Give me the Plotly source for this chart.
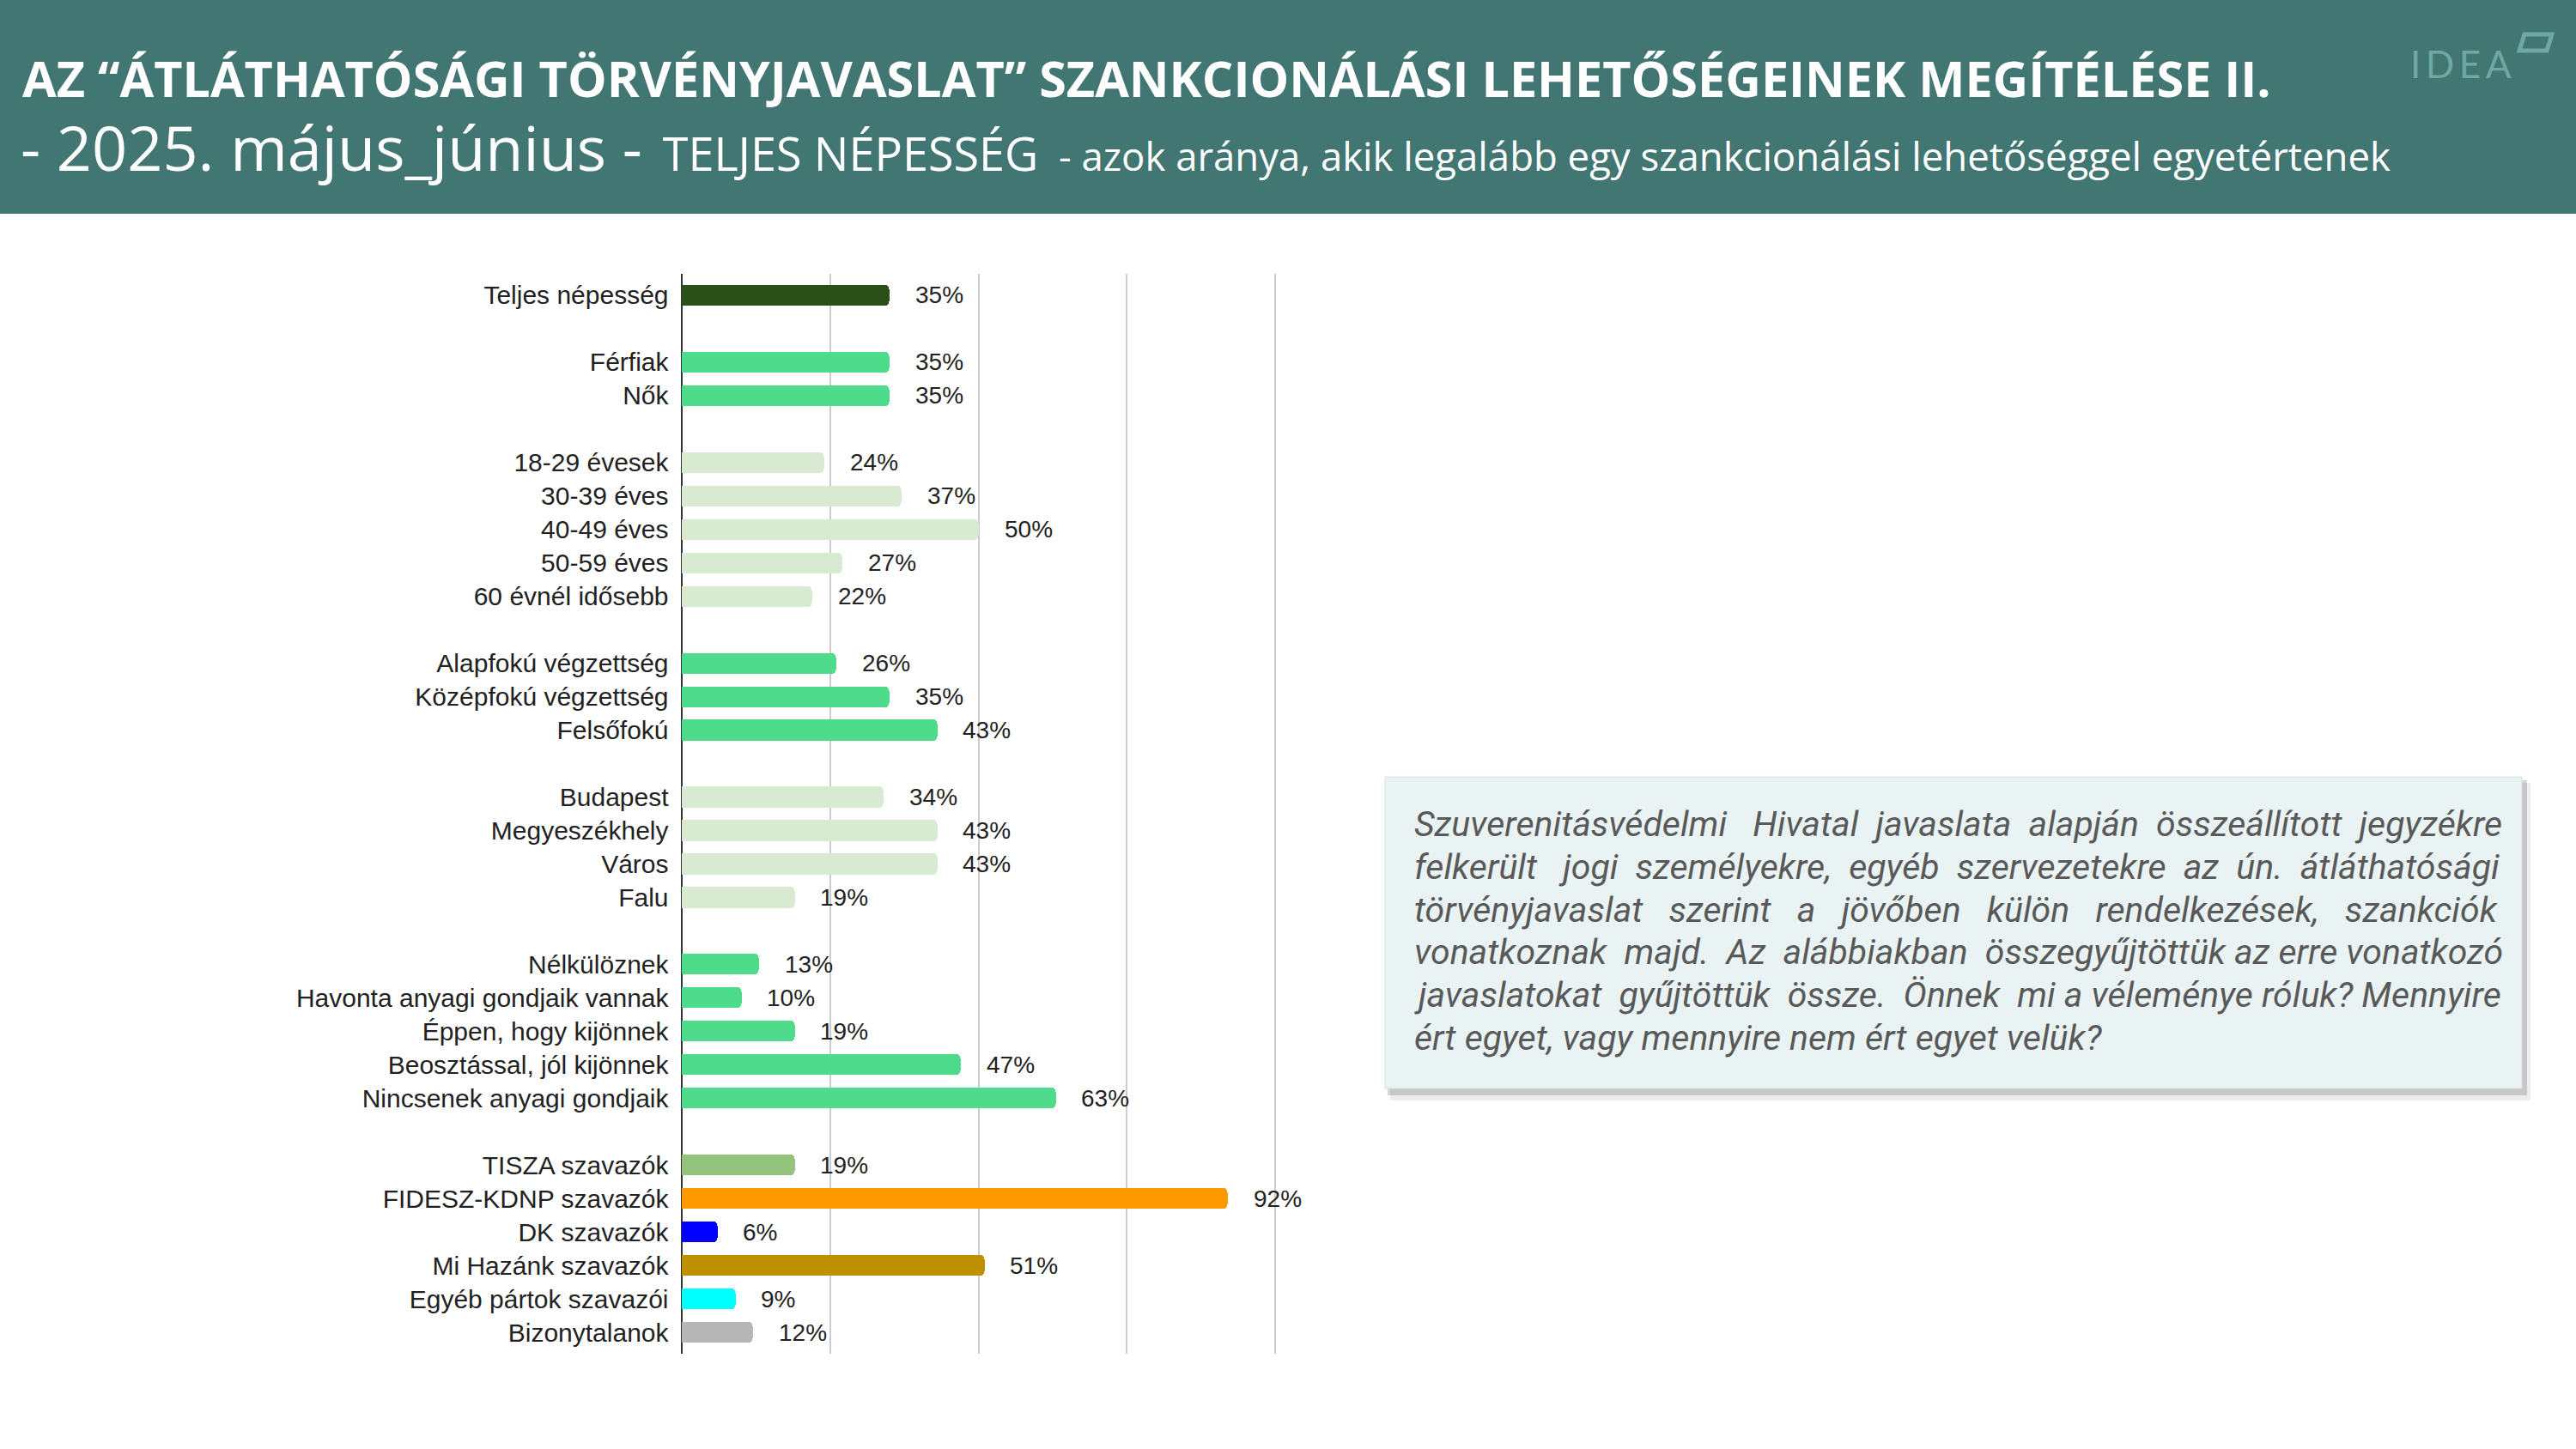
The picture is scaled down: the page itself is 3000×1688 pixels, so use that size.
import plotly.graph_objects as go

# ---------------- data ----------------
labels_total = ["Teljes népesség"]
values_total = [35]
labels_gender = ["Férfiak", "Nők"]
values_gender = [35, 35]
labels_age = ["18-29 évesek", "30-39 éves", "40-49 éves", "50-59 éves", "60 évnél idősebb"]
values_age = [24, 37, 50, 27, 22]
labels_edu = ["Alapfokú végzettség", "Középfokú végzettség", "Felsőfokú"]
values_edu = [26, 35, 43]
labels_settle = ["Budapest", "Megyeszékhely", "Város", "Falu"]
values_settle = [34, 43, 43, 19]
labels_fin = ["Nélkülöznek", "Havonta anyagi gondjaik vannak", "Éppen, hogy kijönnek",
              "Beosztással, jól kijönnek", "Nincsenek anyagi gondjaik"]
values_fin = [13, 10, 19, 47, 63]
labels_party = ["TISZA szavazók", "FIDESZ-KDNP szavazók", "DK szavazók", "Mi Hazánk szavazók",
                "Egyéb pártok szavazói", "Bizonytalanok"]
values_party = [19, 92, 6, 51, 9, 12]
gridline_ticks = [0, 25, 50, 75, 100]

title_text = "AZ “ÁTLÁTHATÓSÁGI TÖRVÉNYJAVASLAT” SZANKCIONÁLÁSI LEHETŐSÉGEINEK MEGÍTÉLÉSE II."
sub_date = "- 2025. május_június -"
sub_pop = "TELJES NÉPESSÉG"
sub_desc = "- azok aránya, akik legalább egy szankcionálási lehetőséggel egyetértenek"
note_lines = [
    "Szuverenitásvédelmi Hivatal javaslata alapján összeállított jegyzékre",
    "felkerült jogi személyekre, egyéb szervezetekre az ún. átláthatósági",
    "törvényjavaslat szerint a jövőben külön rendelkezések, szankciók",
    "vonatkoznak majd. Az alábbiakban összegyűjtöttük az erre vonatkozó",
    "javaslatokat gyűjtöttük össze. Önnek mi a véleménye róluk? Mennyire",
    "ért egyet, vagy mennyire nem ért egyet velük?",
]
# extra spaces per line to imitate justified text (style)
note_pad = [6, 8, 12, 4, 4, 0]

# ---------------- styles ----------------
C_DARK = "#2A5017"
C_GREEN = "#4EDC8C"
C_LIGHT = "#D9EAD3"
party_colors = ["#93C47D", "#FF9900", "#0000FF", "#BF9000", "#00FFFF", "#B7B7B7"]

groups = [
    (labels_total, values_total, [C_DARK]),
    (labels_gender, values_gender, [C_GREEN] * 2),
    (labels_age, values_age, [C_LIGHT] * 5),
    (labels_edu, values_edu, [C_GREEN] * 3),
    (labels_settle, values_settle, [C_LIGHT] * 4),
    (labels_fin, values_fin, [C_GREEN] * 5),
    (labels_party, values_party, party_colors),
]

W, H = 3000, 1688
def px(x):
    return x / W
def py(y):
    return 1 - y / H

def justify(line, extra):
    words = line.split(" ")
    gaps = len(words) - 1
    if extra <= 0 or gaps <= 0:
        return line
    out = words[0]
    for i, w in enumerate(words[1:]):
        n = extra // gaps + (1 if i < extra % gaps else 0)
        out += " " + "\u00a0" * n + w
    return out

labels, values, colors, pos = [], [], [], []
slot = 0
for gl, gv, gc in groups:
    for l, v, c in zip(gl, gv, gc):
        labels.append(l); values.append(v); colors.append(c); pos.append(slot)
        slot += 1
    slot += 1  # blank row between groups
last = pos[-1]

fig = go.Figure()
fig.add_trace(go.Bar(
    x=values, y=pos, orientation="h",
    marker=dict(color=colors, cornerradius=5, line=dict(width=0)),
    width=0.62, hoverinfo="skip", showlegend=False,
))

FONT = "Liberation Sans, Arial, sans-serif"
annotations = []
for v, p in zip(values, pos):
    annotations.append(dict(x=v, y=p, xref="x", yref="y", text=f"{v}%", showarrow=False,
                            xanchor="left", yanchor="middle", xshift=28,
                            font=dict(family=FONT, size=28, color="#222222")))

# header texts
annotations.append(dict(x=px(24), y=py(91), xref="paper", yref="paper", text=f"<b>{title_text}</b>",
                        showarrow=False, xanchor="left", yanchor="middle",
                        font=dict(family="Open Sans", size=57.5, color="white")))
annotations.append(dict(
    x=px(22), y=py(171), xref="paper", yref="paper",
    text=(f"<span style='font-size:72px'>{sub_date}</span>\u00a0 "
          f"<span style='font-size:54px'>{sub_pop}</span>  "
          f"<span style='font-size:45.5px'>{sub_desc}</span>"),
    showarrow=False, xanchor="left", yanchor="middle",
    font=dict(family="Open Sans", size=45.5, color="white")))
annotations.append(dict(x=px(2866), y=py(74), xref="paper", yref="paper", text="I\u2009D\u2009E\u2009A",
                        showarrow=False, xanchor="center", yanchor="middle",
                        font=dict(family="Lato", size=44, color="#6FA8A2")))
# note text (one annotation per line)
for i, (line, pad) in enumerate(zip(note_lines, note_pad)):
    annotations.append(dict(x=px(1645), y=py(960 + 49.8 * i), xref="paper", yref="paper",
                            text=justify(line, pad), showarrow=False, xanchor="left", yanchor="middle",
                            font=dict(family="Roboto", size=41, color="#595959", style="italic")))

shapes = [
    dict(type="rect", xref="paper", yref="paper", x0=0, x1=1, y0=py(249), y1=1,
         fillcolor="#427673", line=dict(width=0), layer="below"),
    # logo mark
    dict(type="path", xref="paper", yref="paper",
         path=f"M {px(2940)},{py(40)} L {px(2972)},{py(40)} L {px(2966)},{py(59)} L {px(2934)},{py(59)} Z",
         line=dict(color="#6FA8A2", width=5), fillcolor="rgba(0,0,0,0)"),
    # note box shadow + box
    dict(type="rect", xref="paper", yref="paper", x0=px(1619), x1=px(2947), y0=py(1282), y1=py(912),
         fillcolor="rgba(0,0,0,0.07)", line=dict(width=0), layer="below"),
    dict(type="rect", xref="paper", yref="paper", x0=px(1616), x1=px(2943), y0=py(1276), y1=py(909),
         fillcolor="rgba(0,0,0,0.16)", line=dict(width=0), layer="below"),
    dict(type="rect", xref="paper", yref="paper", x0=px(1613), x1=px(2937), y0=py(1268), y1=py(905),
         fillcolor="#EAF3F3", line=dict(width=1, color="#D5DEDE"), layer="below"),
]

# x scale: 0..100 spans 794..1485 px; widen range slightly so the 100% gridline is drawn
XPX0, XPX100 = 794, 1485
xr = [-0.5, 100.6]
k = (XPX100 - XPX0) / 100
fig.update_layout(
    width=W, height=H, margin=dict(l=0, r=0, t=0, b=0),
    paper_bgcolor="white", plot_bgcolor="white",
    annotations=annotations, shapes=shapes, bargap=0,
    xaxis=dict(domain=[px(XPX0 + xr[0] * k), px(XPX0 + xr[1] * k)], range=xr, tickvals=gridline_ticks,
               showticklabels=False, showgrid=True, gridcolor="#CCCCCC", gridwidth=2,
               zeroline=True, zerolinecolor="#333333", zerolinewidth=2, fixedrange=True),
    yaxis=dict(domain=[py(1577), py(319)], range=[last + 0.64, -0.64],
               tickvals=pos, ticktext=labels, showgrid=False, zeroline=False,
               ticks="", ticklabelstandoff=11,
               tickfont=dict(family=FONT, size=30, color="#222222")),
)

fig.write_html("out.html", config={"displayModeBar": False},
               post_script="document.body.style.margin='0';")
